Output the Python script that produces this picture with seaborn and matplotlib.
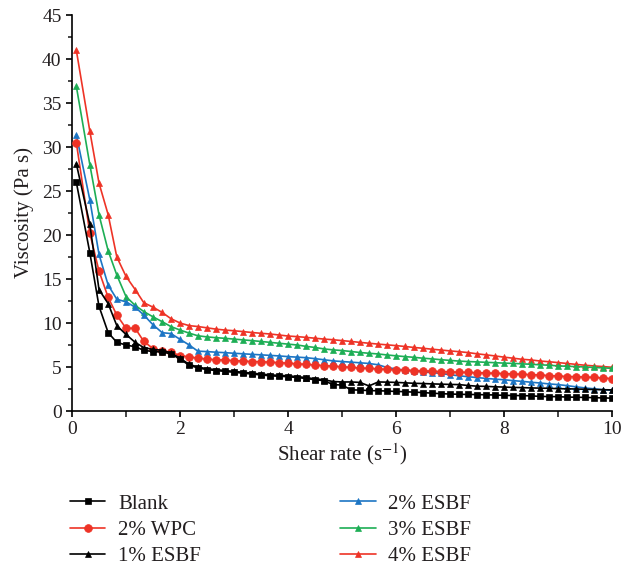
import pandas as pd
import seaborn as sns
import matplotlib.pyplot as plt
from matplotlib.ticker import MultipleLocator

# shear rate (s^-1)
shear_rate = [0.08, 0.33, 0.50, 0.67, 0.83, 1.00, 1.17, 1.33, 1.50, 1.67,
              1.83, 2.00, 2.17, 2.33, 2.50, 2.67, 2.83, 3.00, 3.17, 3.33,
              3.50, 3.67, 3.83, 4.00, 4.17, 4.33, 4.50, 4.67, 4.83, 5.00,
              5.17, 5.33, 5.50, 5.67, 5.83, 6.00, 6.17, 6.33, 6.50, 6.67,
              6.83, 7.00, 7.17, 7.33, 7.50, 7.67, 7.83, 8.00, 8.17, 8.33,
              8.50, 8.67, 8.83, 9.00, 9.17, 9.33, 9.50, 9.67, 9.83, 10.00]

blank = [26.0, 18.0, 11.9, 8.9, 7.8, 7.5, 7.3, 6.9, 6.75, 6.7,
         6.5, 5.9, 5.2, 4.9, 4.7, 4.6, 4.5, 4.4, 4.3, 4.2,
         4.1, 4.0, 3.95, 3.9, 3.8, 3.7, 3.55, 3.45, 3.0, 2.95,
         2.4, 2.38, 2.32, 2.3, 2.27, 2.22, 2.2, 2.14, 2.1, 2.02,
         1.97, 1.93, 1.9, 1.88, 1.87, 1.84, 1.82, 1.78, 1.76, 1.75,
         1.72, 1.66, 1.64, 1.63, 1.58, 1.57, 1.54, 1.52, 1.49, 1.46]

wpc_2 = [30.5, 20.2, 15.9, 12.9, 10.9, 9.4, 9.4, 7.9, 7.1, 6.8,
         6.7, 6.3, 6.15, 6.0, 5.9, 5.82, 5.8, 5.72, 5.68, 5.62,
         5.6, 5.54, 5.5, 5.43, 5.36, 5.3, 5.23, 5.16, 5.1, 5.03,
         4.96, 4.88, 4.85, 4.78, 4.73, 4.67, 4.64, 4.6, 4.57, 4.52,
         4.48, 4.45, 4.41, 4.38, 4.35, 4.33, 4.28, 4.26, 4.2, 4.18,
         4.12, 4.1, 4.02, 3.98, 3.92, 3.9, 3.85, 3.82, 3.75, 3.68]

esbf_1 = [28.1, 21.2, 13.8, 12.2, 9.7, 8.7, 7.8, 7.2, 7.0, 6.9,
          6.6, 6.0, 5.3, 5.0, 4.8, 4.7, 4.6, 4.5, 4.4, 4.3,
          4.2, 4.1, 4.05, 4.0, 3.9, 3.8, 3.65, 3.55, 3.35, 3.3,
          3.3, 3.25, 2.85, 3.3, 3.28, 3.25, 3.2, 3.15, 3.12, 3.08,
          3.05, 3.02, 3.0, 2.9, 2.82, 2.8, 2.75, 2.72, 2.68, 2.66,
          2.62, 2.6, 2.58, 2.54, 2.52, 2.5, 2.47, 2.44, 2.42, 2.4]

esbf_2 = [31.4, 24.0, 17.8, 14.3, 12.7, 12.4, 11.8, 10.9, 9.8, 8.9,
          8.8, 8.15, 7.5, 6.8, 6.75, 6.68, 6.63, 6.56, 6.5, 6.44,
          6.38, 6.32, 6.26, 6.18, 6.12, 6.06, 5.95, 5.82, 5.7, 5.62,
          5.55, 5.48, 5.4, 5.25, 4.95, 4.78, 4.64, 4.55, 4.45, 4.36,
          4.27, 4.12, 4.0, 3.9, 3.8, 3.7, 3.62, 3.55, 3.45, 3.37,
          3.27, 3.18, 3.08, 3.0, 2.88, 2.75, 2.62, 2.52, 2.42, 2.35]

esbf_3 = [36.9, 28.0, 22.3, 18.2, 15.45, 13.0, 12.0, 11.3, 10.7, 10.15,
          9.6, 9.2, 8.85, 8.55, 8.42, 8.33, 8.26, 8.17, 8.08, 8.0,
          7.9, 7.8, 7.7, 7.6, 7.5, 7.35, 7.22, 7.05, 6.95, 6.87,
          6.76, 6.65, 6.56, 6.48, 6.37, 6.27, 6.18, 6.1, 6.0, 5.92,
          5.83, 5.75, 5.67, 5.62, 5.58, 5.53, 5.49, 5.44, 5.41, 5.36,
          5.31, 5.25, 5.2, 5.13, 5.08, 5.05, 5.0, 4.95, 4.9, 4.85]

esbf_4 = [41.0, 31.8, 25.9, 22.3, 17.5, 15.3, 13.8, 12.3, 11.8, 11.2,
          10.5, 10.0, 9.7, 9.6, 9.45, 9.3, 9.2, 9.12, 9.02, 8.92,
          8.83, 8.75, 8.64, 8.52, 8.45, 8.37, 8.27, 8.17, 8.1, 8.0,
          7.9, 7.8, 7.7, 7.6, 7.52, 7.43, 7.33, 7.22, 7.13, 7.02,
          6.93, 6.83, 6.74, 6.64, 6.5, 6.38, 6.26, 6.12, 6.0, 5.88,
          5.8, 5.68, 5.6, 5.5, 5.4, 5.3, 5.2, 5.12, 5.05, 4.97]

labels = ['Blank', '2% WPC', '1% ESBF', '2% ESBF', '3% ESBF', '4% ESBF']
series = [blank, wpc_2, esbf_1, esbf_2, esbf_3, esbf_4]
colors = ['#000000', '#EE3326', '#000000', '#1C75C4', '#1DAE55', '#EE3326']
markers = ['s', 'o', '^', '^', '^', '^']
sizes = [4.6, 5.6, 4.8, 4.8, 4.8, 4.8]
layers = [8, 6, 7, 5, 4, 3]

sns.set_style('ticks')
plt.rcParams['font.family'] = ['Liberation Serif', 'DejaVu Serif']
plt.rcParams['mathtext.fontset'] = 'stix'

fig = plt.figure(figsize=(6.25, 5.67), dpi=100)
ax = fig.add_axes([72 / 625, 1 - 411 / 567, 540 / 625, 396 / 567])

handles = []
for lab, y, c, m, ms, z in zip(labels, series, colors, markers, sizes, layers):
    df = pd.DataFrame({'x': shear_rate, 'y': y})
    sns.lineplot(data=df, x='x', y='y', ax=ax, color=c, marker=m,
                 markersize=ms, markeredgecolor=c, markeredgewidth=0.5,
                 linewidth=1.2, errorbar=None, legend=False, zorder=z,
                 label=lab)
    handles.append(ax.get_lines()[-1])

ax.set_xlim(0, 10)
ax.set_ylim(0, 45)
ax.xaxis.set_major_locator(MultipleLocator(2))
ax.xaxis.set_minor_locator(MultipleLocator(1))
ax.yaxis.set_major_locator(MultipleLocator(5))
ax.yaxis.set_minor_locator(MultipleLocator(2.5))
ax.tick_params(axis='both', which='major', labelsize=14, length=4.5,
               width=1.2, color='black', labelcolor='#231f20', pad=3)
ax.tick_params(axis='x', which='minor', length=4.5, width=1.2)
ax.tick_params(axis='y', which='minor', length=3, width=1.2)
sns.despine(ax=ax)
for s in ['left', 'bottom']:
    ax.spines[s].set_linewidth(1.2)
    ax.spines[s].set_color('black')

ax.set_xlabel('Shear rate (s$^{-1}$)', fontsize=15, color='#231f20', labelpad=2)
ax.set_ylabel('Viscosity (Pa s)', fontsize=15, color='#231f20', labelpad=6)

fig.legend(handles, labels, ncol=2, loc='upper left',
           bbox_to_anchor=(70 / 625, 1 - 494 / 567), frameon=False,
           fontsize=15, handlelength=1.7, handletextpad=0.6,
           columnspacing=6.7, labelspacing=0.32, borderpad=0,
           borderaxespad=0, labelcolor='#231f20')

fig.savefig('out.png', dpi=100)
